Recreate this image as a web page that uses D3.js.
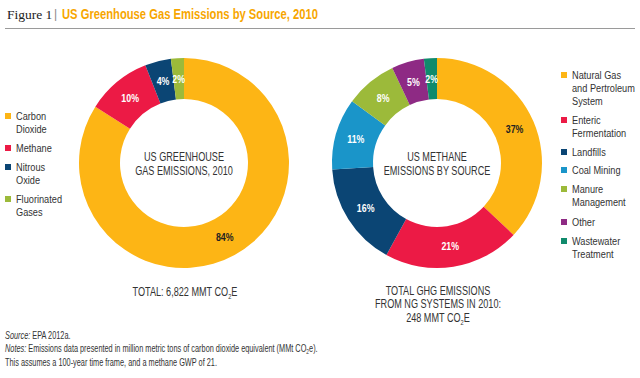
<!DOCTYPE html>
<html><head><meta charset="utf-8">
<script src="https://cdn.jsdelivr.net/npm/d3@7"></script>
<style>
body{margin:0;background:#fff;}
svg{display:block;}
text{font-family:"Liberation Sans",Arial,sans-serif;}
text.serif{font-family:"Liberation Serif","DejaVu Serif",serif;}
</style></head><body>
<svg id="c" width="640" height="378"></svg>
<script>
// ---- data ----
const ghgCategories = ["Carbon Dioxide","Methane","Nitrous Oxide","Fluorinated Gases"];
const ghgLegendLines = [["Carbon","Dioxide"],["Methane"],["Nitrous","Oxide"],["Fluorinated","Gases"]];
const ghgValues = [84,10,4,2];
const ch4Categories = ["Natural Gas and Pertroleum System","Enteric Fermentation","Landfills","Coal Mining","Manure Management","Other","Wastewater Treatment"];
const ch4LegendLines = [["Natural Gas","and Pertroleum","System"],["Enteric","Fermentation"],["Landfills"],["Coal Mining"],["Manure","Management"],["Other"],["Wastewater","Treatment"]];
const ch4Values = [37,21,16,11,8,5,2];
const ghgColors = ["#FDB515","#EC1A45","#0B4574","#9CBA3A"];
const ch4Colors = ["#FDB515","#EC1A45","#0B4574","#1A95C9","#9CBA3A","#8E2A84","#108A6C"];

const svg = d3.select("#c");

// condensed text helper: Liberation Sans squeezed horizontally
function txt(parent, x, y, str, o){
  o = o || {};
  const s = o.sx || 0.78;
  const t = parent.append("text")
    .attr("transform",`translate(${x},${y}) scale(${s},1)`)
    .attr("dy","0.36em")
    .attr("text-anchor",o.anchor||"start")
    .attr("font-size",o.size||12)
    .attr("font-weight",o.weight||"normal")
    .attr("fill",o.fill||"#333");
  if(str!==null) t.text(str);
  return t;
}

// title
svg.append("text").attr("class","serif").attr("x",7).attr("y",19).attr("font-size",13.5).attr("fill","#222").text("Figure 1");
svg.append("text").attr("x",54).attr("y",18).attr("font-size",12).attr("fill","#888").text("|");
svg.append("text").attr("x",62).attr("y",19).attr("font-size",14.5).attr("font-weight","bold")
  .attr("fill","#F7A600").attr("textLength",256).attr("lengthAdjust","spacingAndGlyphs")
  .text("US Greenhouse Gas Emissions by Source, 2010");
svg.append("line").attr("x1",5).attr("x2",635).attr("y1",28.5).attr("y2",28.5).attr("stroke","#9a9a9a").attr("stroke-width",1.2);

function donut(cx, cy, values, colors, centerLines){
  const g = svg.append("g").attr("transform",`translate(${cx},${cy})`);
  const pie = d3.pie().sort(null).value(d=>d);
  const arc = d3.arc().innerRadius(64).outerRadius(105);
  const arcs = pie(values);
  g.selectAll("path").data(arcs).join("path").attr("d",arc).attr("fill",(d,i)=>colors[i]);
  arcs.forEach((d,i)=>{
    const c = arc.centroid(d);
    txt(g, c[0], c[1], d.data+"%", {anchor:"middle", size:11, weight:"bold", sx:0.8,
      fill: colors[i]==="#FDB515" ? "#222" : "#fff"});
  });
  centerLines.forEach((s,i)=>{
    txt(g, 0, -6+i*14, s, {anchor:"middle", size:12, sx:0.76});
  });
}
donut(184,163,ghgValues,ghgColors,["US GREENHOUSE","GAS EMISSIONS, 2010"]);
donut(437,163,ch4Values,ch4Colors,["US METHANE","EMISSIONS BY SOURCE"]);

function legend(x, ys, lines, colors){
  lines.forEach((ls,i)=>{
    svg.append("rect").attr("x",x).attr("y",ys[i]-3).attr("width",6).attr("height",6).attr("fill",colors[i]);
    ls.forEach((s,j)=>{
      txt(svg, x+11, ys[i]+j*13, s, {size:11.5, sx:0.8});
    });
  });
}
legend(5,[116,148,167,199],ghgLegendLines,ghgColors);
legend(561,[75,120,152,170,189,222,241],ch4LegendLines,ch4Colors);

// totals
function co2Text(x,y,prefix){
  const tx = txt(svg, x, y, null, {anchor:"middle", size:12, sx:0.76});
  tx.append("tspan").text(prefix+"CO");
  tx.append("tspan").attr("font-size",7.5).attr("dy",3).text("2");
  tx.append("tspan").attr("dy",-3).text("E");
}
co2Text(185,292,"TOTAL: 6,822 MMT ");
txt(svg, 438, 291, "TOTAL GHG EMISSIONS", {anchor:"middle", size:12, sx:0.76});
txt(svg, 438, 304, "FROM NG SYSTEMS IN 2010:", {anchor:"middle", size:12, sx:0.76});
co2Text(438,318,"248 MMT ");

// footnotes
const fs = 0.7, fz = 10.5;
const f1 = txt(svg, 5, 335, null, {size:fz, sx:fs});
f1.append("tspan").attr("font-style","italic").text("Source:");
f1.append("tspan").text(" EPA 2012a.");
const f2 = txt(svg, 5, 348, null, {size:fz, sx:fs});
f2.append("tspan").attr("font-style","italic").text("Notes:");
f2.append("tspan").text(" Emissions data presented in million metric tons of carbon dioxide equivalent (MMt CO");
f2.append("tspan").attr("font-size",7).attr("dy",2).text("2");
f2.append("tspan").attr("dy",-2).text("e).");
txt(svg, 5, 362, "This assumes a 100-year time frame, and a methane GWP of 21.", {size:fz, sx:fs});
</script></body></html>
